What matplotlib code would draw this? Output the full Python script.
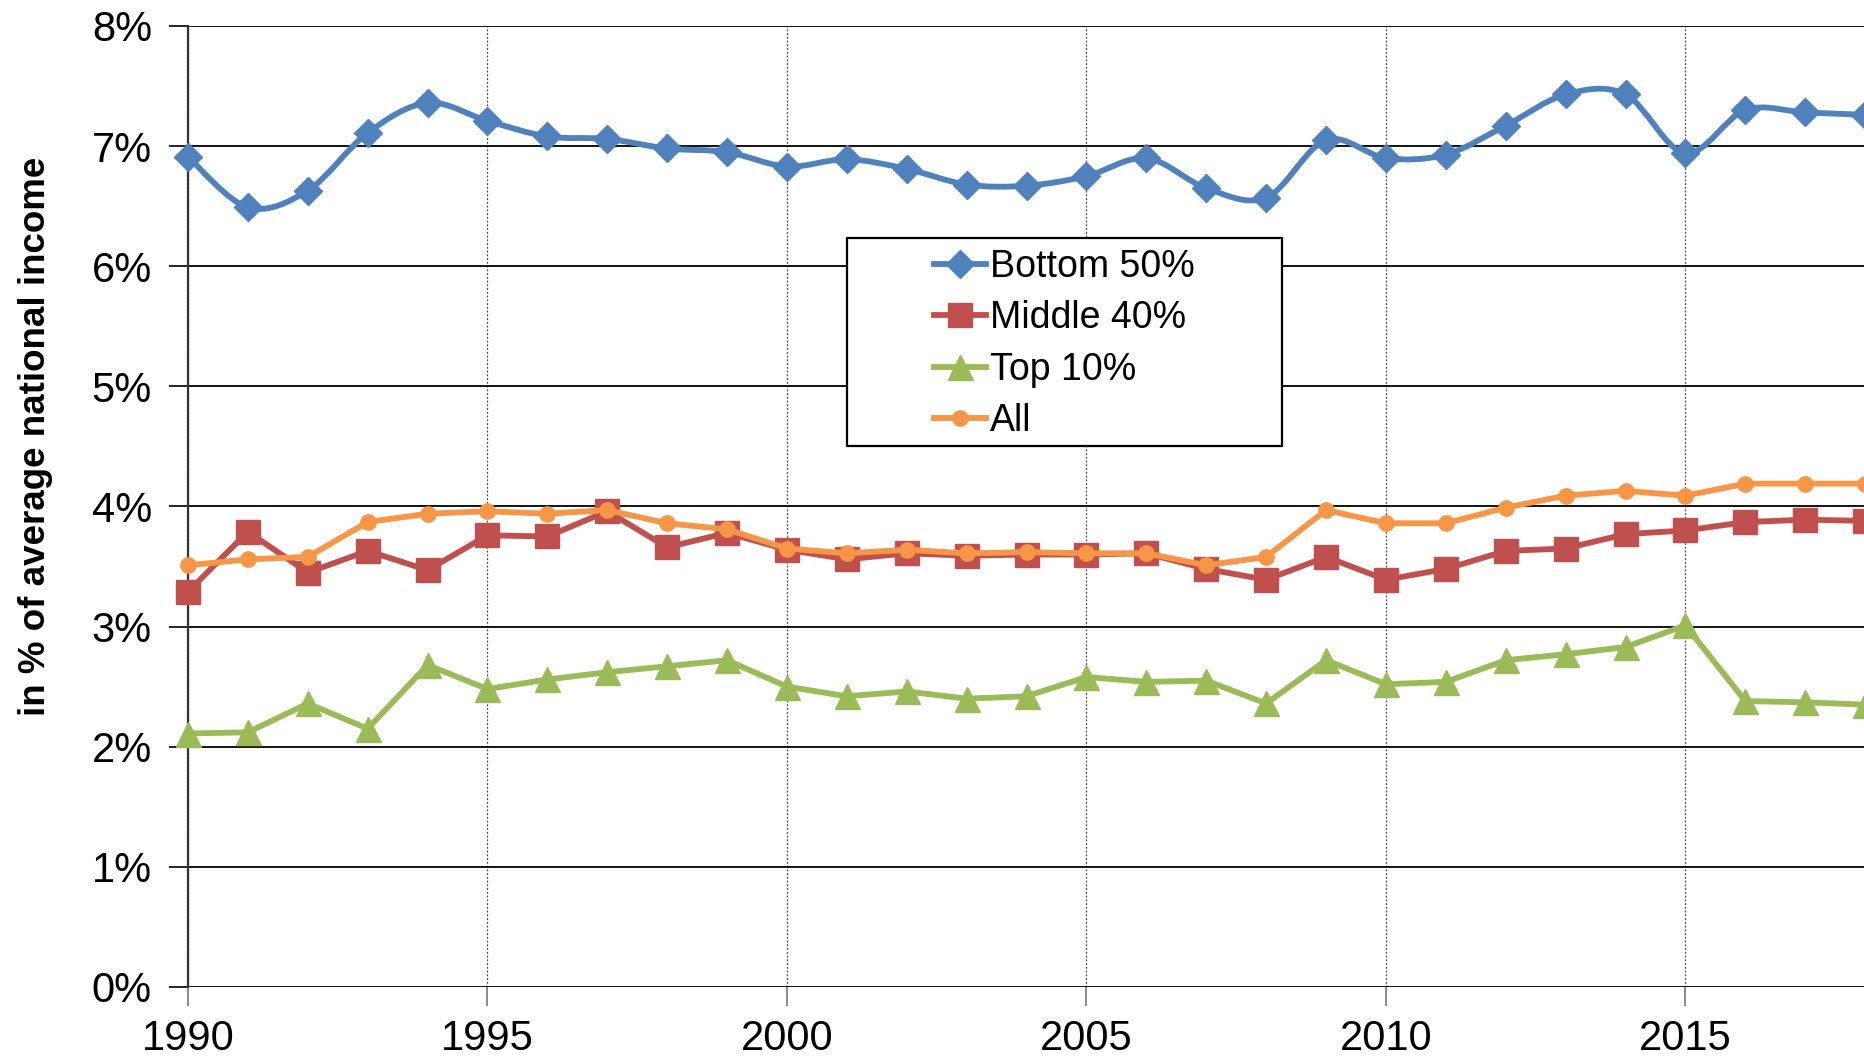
import numpy as np
import matplotlib
matplotlib.use("Agg")
import matplotlib.pyplot as plt
from matplotlib.path import Path
from matplotlib.patches import PathPatch, Rectangle
from matplotlib.lines import Line2D
from matplotlib.ticker import FuncFormatter, MultipleLocator

plt.rcParams['font.family'] = ['Liberation Sans', 'DejaVu Sans']

# Data (share of average national income, %)
years = list(range(1990, 2019))
bottom50 = [6.91, 6.49, 6.63, 7.11, 7.36, 7.21, 7.08, 7.06, 6.98, 6.95,
            6.83, 6.89, 6.81, 6.68, 6.67, 6.75, 6.90, 6.65, 6.57, 7.05,
            6.90, 6.93, 7.17, 7.43, 7.43, 6.94, 7.30, 7.28, 7.26]
middle40 = [3.29, 3.79, 3.45, 3.63, 3.47, 3.76, 3.75, 3.96, 3.66, 3.78,
            3.64, 3.56, 3.61, 3.59, 3.60, 3.60, 3.61, 3.48, 3.39, 3.58,
            3.39, 3.48, 3.63, 3.65, 3.77, 3.80, 3.87, 3.89, 3.88]
top10 = [2.11, 2.12, 2.36, 2.15, 2.68, 2.48, 2.56, 2.62, 2.67, 2.72,
         2.50, 2.42, 2.46, 2.40, 2.42, 2.58, 2.54, 2.55, 2.36, 2.72,
         2.52, 2.54, 2.72, 2.77, 2.83, 3.01, 2.38, 2.37, 2.35]
all_groups = [3.51, 3.56, 3.58, 3.87, 3.94, 3.96, 3.94, 3.97, 3.86, 3.81,
              3.65, 3.61, 3.64, 3.61, 3.62, 3.61, 3.61, 3.51, 3.58, 3.97,
              3.86, 3.86, 3.99, 4.09, 4.13, 4.09, 4.19, 4.19, 4.19]
xtick_years = [1990, 1995, 2000, 2005, 2010, 2015]

BLUE = "#4F81BD"
RED = "#C0504D"
GREEN = "#9BBB59"
ORANGE = "#F79646"
LW = 4.2

fig = plt.figure(figsize=(18.65, 10.6), dpi=100)
ax = fig.add_axes([0.1008, 0.0689, 0.9635, 0.9066])


def smooth_path(xs, ys):
    # Excel-style smoothed line: cubic Bezier segments through the points
    pts = np.column_stack([np.asarray(xs, float), np.asarray(ys, float)])
    verts = [pts[0]]
    codes = [Path.MOVETO]
    n = len(pts)
    for i in range(n - 1):
        p0 = pts[i - 1] if i > 0 else pts[i]
        p1 = pts[i]
        p2 = pts[i + 1]
        p3 = pts[i + 2] if i + 2 < n else pts[i + 1]
        verts += [p1 + (p2 - p0) / 6.0, p2 - (p3 - p1) / 6.0, p2]
        codes += [Path.CURVE4] * 3
    return Path(verts, codes)


# Bottom 50% (smoothed)
ax.add_patch(PathPatch(smooth_path(years, bottom50), facecolor="none",
                       edgecolor=BLUE, lw=LW, zorder=3, capstyle="round"))
ax.plot(years, bottom50, linestyle="none", marker="D", markersize=14,
        color=BLUE, zorder=4, clip_on=False)

ax.plot(years, middle40, color=RED, lw=LW, marker="s", markersize=17,
        zorder=3, clip_on=False)
ax.plot(years, top10, color=GREEN, lw=LW, marker="^", markersize=18,
        zorder=3, clip_on=False)
ax.plot(years, all_groups, color=ORANGE, lw=LW, marker="o", markersize=11,
        zorder=3, clip_on=False)

ax.set_xlim(1990, 2020)
ax.set_ylim(0, 8)
ax.set_xticks(xtick_years)
ax.yaxis.set_major_locator(MultipleLocator(1))
ax.yaxis.set_major_formatter(FuncFormatter(lambda v, p: f"{int(round(v))}%"))

ax.grid(axis="y", color="black", lw=1.3, linestyle="-")
ax.grid(axis="x", color="#444444", lw=0.9, linestyle=(0, (1.5, 1.5)))
ax.set_axisbelow(True)

for s in ["top", "right", "bottom"]:
    ax.spines[s].set_visible(False)
ax.spines["left"].set_linewidth(1.6)
ax.spines["left"].set_color("#333333")

ax.tick_params(axis="y", labelsize=30, length=14, width=1.2, pad=12)
ax.tick_params(axis="x", labelsize=30, length=14, width=1.2, pad=9,
               color="#777777")

fig.text(0.019, 0.588, "in % of average national income", fontsize=26.5,
         fontweight="bold", rotation=90, ha="center", va="center")

# Legend box drawn separately so the entries can sit right of centre
fig.patches.append(Rectangle((847 / 1865, 614 / 1060), 435 / 1865, 208 / 1060,
                             transform=fig.transFigure, facecolor="white",
                             edgecolor="black", lw=1.6, zorder=5))

handles = [
    Line2D([], [], color=BLUE, lw=LW, marker="D", markersize=14),
    Line2D([], [], color=RED, lw=LW, marker="s", markersize=17),
    Line2D([], [], color=GREEN, lw=LW, marker="^", markersize=18),
    Line2D([], [], color=ORANGE, lw=LW, marker="o", markersize=11),
]
labels = ["Bottom 50%", "Middle 40%", "Top 10%", "All"]
leg = fig.legend(handles, labels, loc="upper left",
                 bbox_to_anchor=(934 / 1865, (1060 - 249) / 1060),
                 bbox_transform=fig.transFigure, fontsize=27,
                 frameon=False, handlelength=1.4, handletextpad=0.1,
                 labelspacing=0.41, borderpad=0, borderaxespad=0)
leg.set_zorder(6)

fig.savefig("out.png", dpi=100)
